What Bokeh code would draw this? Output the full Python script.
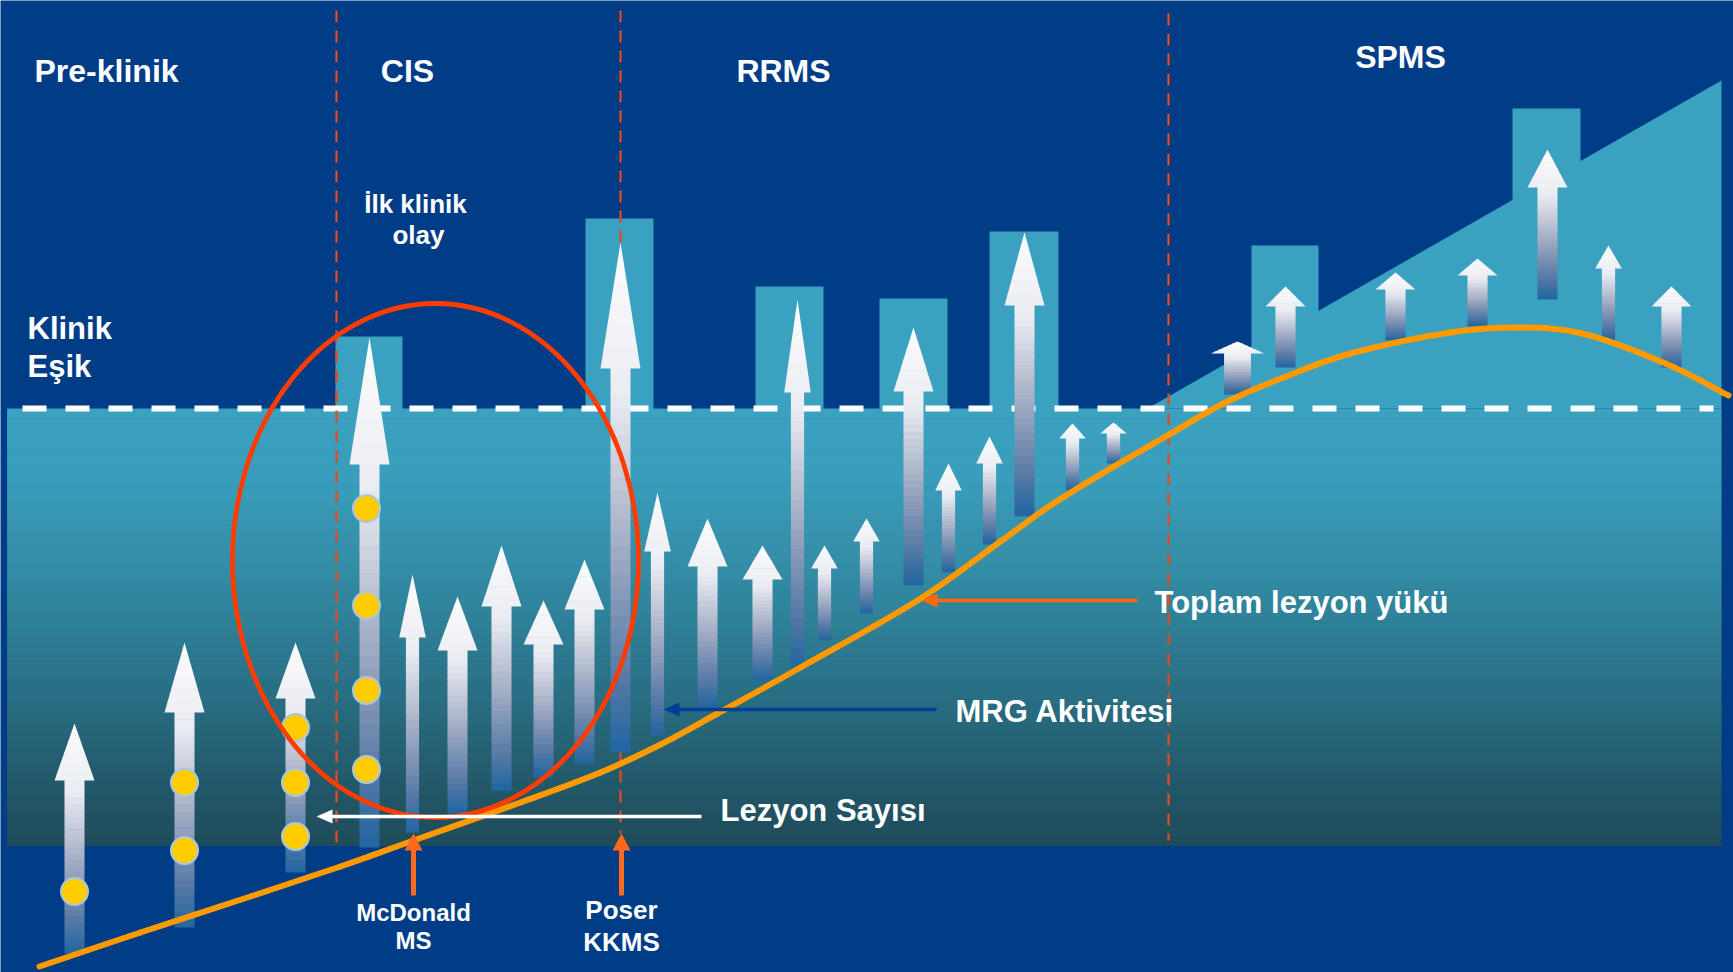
import numpy as np
from bokeh.plotting import figure
from bokeh.models import Range1d, ColumnDataSource
from bokeh.core.properties import value
from bokeh.embed import file_html
from bokeh.resources import INLINE

W, H = 1733, 972

# ---------------- data ----------------
phase_labels = ["Pre-klinik", "CIS", "RRMS", "SPMS"]
phase_label_x = [34, 407, 783, 1400]
phase_label_y = [81, 81, 81, 67]
phase_boundary_x = [336, 620, 1168]
phase_boundary_top = [10, 10, 13]
phase_boundary_bottom = [845, 833, 840]

threshold_y = 408

# relapse bars that cross the clinical threshold
bar_left = [335, 585, 755, 879, 989, 1251, 1512]
bar_right = [402, 653, 823, 947, 1058, 1318, 1580]
bar_top = [336, 218, 286, 298, 231, 245, 108]

# SPMS rising disability area
spms_x = [1147, 1721, 1721]
spms_y = [408, 80, 408]

# MRI activity arrows
arrow_x = [74, 184, 295, 369, 412, 457, 501, 543, 584, 620, 657, 707, 762, 797, 824,
           866, 913, 948, 989, 1024, 1072, 1113, 1237, 1285, 1395, 1477, 1547, 1608, 1671]
arrow_tip = [723, 642, 642, 337, 574, 596, 545, 600, 559, 242, 492, 518, 545, 299, 545,
             518, 327, 463, 436, 232, 423, 422, 341, 286, 272, 258, 149, 245, 286]
arrow_head_base = [780, 712, 698, 464, 637, 650, 606, 644, 609, 368, 551, 566, 579, 392, 568,
                   541, 391, 490, 463, 305, 438, 433, 353, 306, 289, 275, 187, 268, 306]
arrow_bottom = [953, 927, 872, 847, 832, 813, 790, 777, 763, 752, 735, 708, 680, 667, 640,
                613, 585, 572, 544, 516, 490, 463, 394, 367, 340, 326, 299, 340, 367]
arrow_kind = ["L", "L", "L", "L", "S", "L", "L", "L", "L", "L", "S", "L", "L", "S", "S",
              "S", "L", "S", "S", "L", "S", "S", "W", "L", "L", "L", "L", "S", "L"]

# lesion count dots
dot_x = [74, 184, 184, 295, 295, 295, 366, 366, 366, 366]
dot_y = [891, 782, 850, 727, 782, 836, 508, 605, 690, 769]

# total lesion load curve
load_x = [39, 140, 250, 340, 413, 520, 600, 660, 717, 800, 917, 1000, 1050, 1110, 1167,
          1223, 1283, 1350, 1450, 1517, 1582, 1665, 1728]
load_y = [966, 932, 896, 866, 840, 802, 772, 744, 713, 667, 600, 541, 505, 468, 435,
          403, 377, 353, 332, 327, 333, 363, 395]

# annotations
annot_text = ["Toplam lezyon yükü", "MRG Aktivitesi", "Lezyon Sayısı"]
annot_text_x = [1154, 955, 720]
annot_text_y = [613, 722, 821]
annot_line_start = [1137, 936, 701]
annot_line_end = [921, 663, 316]
annot_line_y = [600, 709, 816]
annot_color = ["#ff6a00", "#023f94", "#ffffff"]

marker_labels = [["McDonald", "MS"], ["Poser", "KKMS"]]
marker_x = [413, 621]

# ---------------- style helpers ----------------
BG = "#013d87"
TEAL = "#3ba1c0"
FONT = value("Liberation Sans")

def interp(stops, t):
    for (t0, c0), (t1, c1) in zip(stops[:-1], stops[1:]):
        if t <= t1:
            f = 0 if t1 == t0 else (t - t0) / (t1 - t0)
            f = min(max(f, 0), 1)
            return "#%02x%02x%02x" % tuple(int(round(a + (b - a) * f)) for a, b in zip(c0, c1))
    return "#%02x%02x%02x" % stops[-1][1]

TEAL_STOPS = [(408, (59, 161, 192)), (480, (57, 157, 187)), (560, (52, 142, 168)),
              (640, (45, 124, 147)), (720, (39, 104, 124)), (800, (33, 85, 101)),
              (845, (31, 76, 90))]
ARROW_STOPS = [(0.0, (252, 252, 253)), (0.3, (234, 236, 242)), (0.6, (162, 172, 196)),
               (0.85, (88, 122, 166)), (1.0, (32, 102, 160))]
KIND_HW = {"L": (20, 10), "S": (13.3, 6.6), "W": (26.7, 13.4)}

p = figure(width=W, height=H, x_range=Range1d(0, W), y_range=Range1d(H, 0),
           x_axis_location=None, y_axis_location=None, toolbar_location=None,
           output_backend="svg", min_border=0, background_fill_color=BG,
           border_fill_color=BG, outline_line_color=None)
p.grid.visible = False

# teal gradient box
box_left, box_right, box_top, box_bottom = 6.6, 1721, threshold_y, 845
n = 90
edges = np.linspace(box_top, box_bottom, n + 1)
p.quad(left=[box_left] * n, right=[box_right] * n, top=list(edges[:-1]),
       bottom=list(edges[1:] + 0.6),
       fill_color=[interp(TEAL_STOPS, (a + b) / 2) for a, b in zip(edges[:-1], edges[1:])],
       line_color=None)

# bars and SPMS area
p.quad(left=bar_left, right=bar_right, top=bar_top, bottom=[threshold_y + 1] * len(bar_left),
       fill_color=TEAL, line_color=None)
p.patch(spms_x, spms_y, fill_color=TEAL, line_color=None)

# clinical threshold
p.line([22, 1713], [threshold_y, threshold_y], line_color="white", line_width=6, line_dash="24 19")

# phase boundaries
p.segment(x0=phase_boundary_x, y0=phase_boundary_top, x1=phase_boundary_x, y1=phase_boundary_bottom,
          line_color="#e84a1a", line_width=2.2, line_dash="12 8")

# gradient arrows
ql, qr, qt, qb, qc = [], [], [], [], []
hx, hy, hc = [], [], []
ns = 28
for x, tip, hb, bot, k in zip(arrow_x, arrow_tip, arrow_head_base, arrow_bottom, arrow_kind):
    hw, sw = KIND_HW[k]
    L = bot - tip
    e = np.linspace(hb - 1, bot, ns + 1)
    for a, b in zip(e[:-1], e[1:]):
        ql.append(x - sw); qr.append(x + sw); qt.append(a); qb.append(min(b + 0.6, bot))
        qc.append(interp(ARROW_STOPS, ((a + b) / 2 - tip) / L))
    nh = 6
    he = np.linspace(tip, hb, nh + 1)
    for a, b in zip(he[:-1], he[1:]):
        wa = hw * (a - tip) / (hb - tip)
        b2 = min(b + 0.6, hb)
        wb2 = hw * (b2 - tip) / (hb - tip)
        hx.append([x - wa, x + wa, x + wb2, x - wb2])
        hy.append([a, a, b2, b2])
        hc.append(interp(ARROW_STOPS, ((a + b) / 2 - tip) / L))
p.quad(left=ql, right=qr, top=qt, bottom=qb, fill_color=qc, line_color=None)
p.patches(hx, hy, fill_color=hc, line_color=None)

# lesion dots
p.scatter(dot_x, dot_y, size=27, marker="circle", fill_color="#ffcc00",
          line_color="#a9c6e6", line_width=2)

# lesion load curve: smooth Bezier path through the read points
px = [load_x[0]] + load_x + [load_x[-1]]
py = [load_y[0]] + load_y + [load_y[-1]]
bx0, by0, bx1, by1, cx0, cy0, cx1, cy1 = [], [], [], [], [], [], [], []
for i in range(1, len(px) - 2):
    bx0.append(px[i]); by0.append(py[i]); bx1.append(px[i + 1]); by1.append(py[i + 1])
    cx0.append(px[i] + (px[i + 1] - px[i - 1]) / 6); cy0.append(py[i] + (py[i + 1] - py[i - 1]) / 6)
    cx1.append(px[i + 1] - (px[i + 2] - px[i]) / 6); cy1.append(py[i + 1] - (py[i + 2] - py[i]) / 6)
p.bezier(x0=bx0, y0=by0, x1=bx1, y1=by1, cx0=cx0, cy0=cy0, cx1=cx1, cy1=cy1,
         line_color="#ff9900", line_width=6, line_cap="round")

# first clinical event ellipse
p.ellipse(x=[435], y=[560], width=[406], height=[514], fill_color=None,
          line_color="#ff3c00", line_width=4.8)

# annotation arrows
for xs, xe, y, c in zip(annot_line_start, annot_line_end, annot_line_y, annot_color):
    p.segment(x0=[xs], y0=[y], x1=[xe + 10], y1=[y], line_color=c, line_width=3.5)
    p.patch([xe, xe + 16, xe + 16], [y, y - 7, y + 7], fill_color=c, line_color=None)

# diagnostic criteria arrows (McDonald, Poser)
for x in marker_x:
    p.segment(x0=[x], y0=[895], x1=[x], y1=[848], line_color="#fb6a1b", line_width=5)
    p.patch([x - 9, x, x + 9], [850, 833, 850], fill_color="#fb6a1b", line_color=None)

# texts (y given as baseline; shifted for the renderer's baseline handling)
def txt(x, y, t, size, align="left"):
    off = 0.34 * size
    p.text(x=x, y=[v - off for v in y], text=t, text_font=FONT, text_font_style="bold",
           text_font_size="%dpx" % size, text_color="white", text_align=align,
           text_baseline="alphabetic")

txt([phase_label_x[0]], [phase_label_y[0]], [phase_labels[0]], 32)
txt(phase_label_x[1:], phase_label_y[1:], phase_labels[1:], 32, "center")
txt([415, 418], [212, 243], ["İlk klinik", "olay"], 26, "center")
txt([27, 27], [339, 377], ["Klinik", "Eşik"], 31)
txt(annot_text_x, annot_text_y, annot_text, 31)
txt([marker_x[0], marker_x[0]], [920, 948], marker_labels[0], 24, "center")
txt([marker_x[1], marker_x[1]], [918, 950], marker_labels[1], 26, "center")

open("out.html", "w").write(file_html(p, INLINE))
